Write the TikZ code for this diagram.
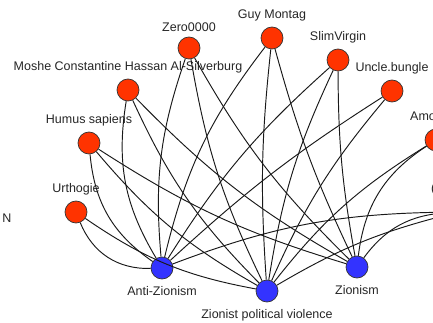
\documentclass[tikz,border=0pt]{standalone}
\usepackage{fontspec}
\setmainfont{Liberation Sans}
\usepackage{tikz}
\usetikzlibrary{arrows,shapes}
\definecolor{userred}{HTML}{FF3300}
\definecolor{pageblue}{HTML}{3333FF}
\tikzstyle{vertex}=[circle, draw=black!80, line width=0.7pt, inner sep=0pt, minimum size = 22pt]
\tikzstyle{user vertex}=[vertex, fill=userred]
\tikzstyle{page vertex}=[vertex, fill=pageblue]
\tikzstyle{edge} = [draw=black!90,line width=0.95pt,-]
\tikzstyle{note} = [draw=none, text=black!85, inner sep=0pt]

\begin{document}
\begin{tikzpicture}[x=1pt, y=-1pt, every label/.style={note}]
\fontsize{12.5}{14}\selectfont
\useasboundingbox (0,0) rectangle (433,323);
\clip (0,0) rectangle (433,323);
% First we draw the vertices

\foreach \pos/\name/\text in {
	{(76,212)/urthogie/Urthogie},
	{(89,143)/humus/Humus sapiens},
	{(128,90)/moshe/Moshe Constantine Hassan Al-Silverburg},
	{(189,48)/zero/Zero0000},
	{(272,38)/guy/Guy Montag},
	{(338,60)/slim/SlimVirgin},
	{(392,91)/uncle/Uncle.bungle},
	{(436,140)/amo/},
	{(458,212)/far/}}
\node[user vertex, label={[yshift=5pt]above:\text}] (\name) at \pos {};

\foreach \pos/\name/\text in {
	{(162,268)/antizionism/Anti-Zionism},
	{(267,291)/violence/Zionist political violence},
	{(357,267)/zionism/Zionism}}
\node[page vertex, label={[yshift=-7pt]below:\text}] (\name) at \pos {};

\node[note, anchor=west] (amolabel) at (410,116) {Amo};
\node[note, anchor=west] (farlabel) at (431,189) {(};
\node[note] (n) at (7,218) {N};

% Connect vertices with edges
\foreach \source/\dest/\bend in {
	urthogie/antizionism/35,
	urthogie/violence/12,
	humus/antizionism/25,
	humus/violence/10,
	humus/zionism/8,
	moshe/antizionism/20,
	moshe/violence/10,
	moshe/zionism/8,
	zero/antizionism/12,
	zero/violence/8,
	zero/zionism/8,
	guy/antizionism/12,
	guy/violence/5,
	guy/zionism/5,
	slim/antizionism/8,
	slim/violence/8,
	slim/zionism/5,
	uncle/antizionism/5,
	uncle/violence/8,
	amo/violence/10,
	amo/zionism/25,
	far/antizionism/10,
	far/violence/8,
	far/zionism/25}
\path[edge] (\source) to[bend right=\bend] (\dest);

\end{tikzpicture}
\end{document}
